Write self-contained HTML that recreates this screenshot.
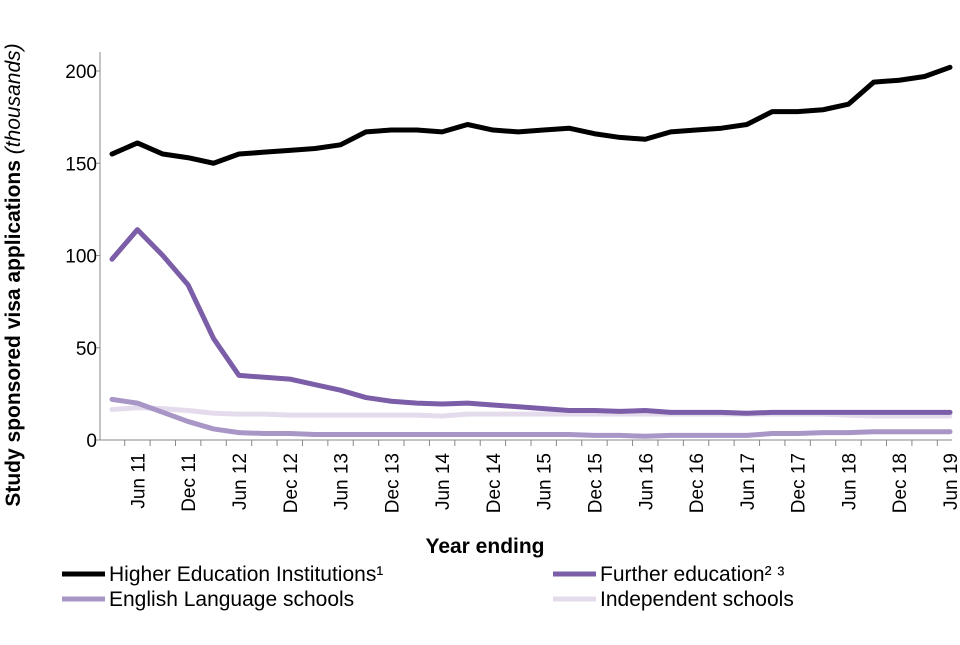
<!DOCTYPE html>
<html><head><meta charset="utf-8"><style>
body{margin:0;background:#fff;font-family:"Liberation Sans",Arial,sans-serif}
svg text{font-family:"Liberation Sans",Arial,sans-serif}
</style></head><body>
<svg id="c" width="960" height="640"></svg>
<script>
const quarters=["Mar 11","Jun 11","Sep 11","Dec 11","Mar 12","Jun 12","Sep 12","Dec 12","Mar 13","Jun 13","Sep 13","Dec 13","Mar 14","Jun 14","Sep 14","Dec 14","Mar 15","Jun 15","Sep 15","Dec 15","Mar 16","Jun 16","Sep 16","Dec 16","Mar 17","Jun 17","Sep 17","Dec 17","Mar 18","Jun 18","Sep 18","Dec 18","Mar 19","Jun 19"];
const heiValues=[155,161,155,153,150,155,156,157,158,160,167,168,168,167,171,168,167,168,169,166,164,163,167,168,169,171,178,178,179,182,194,195,197,202];
const feValues=[98,114,100,84,55,35,34,33,30,27,23,21,20,19.5,20,19,18,17,16,16,15.5,16,15,15,15,14.5,15,15,15,15,15,15,15,15];
const elsValues=[22,20,15,10,6,4,3.5,3.5,3,3,3,3,3,3,3,3,3,3,3,2.5,2.5,2,2.5,2.5,2.5,2.5,3.5,3.5,4,4,4.5,4.5,4.5,4.5];
const indValues=[16.5,17.5,17,16,14.5,14,14,13.5,13.5,13.5,13.5,13.5,13.5,13,14,14,14,14,14,14,14,14,14,14,14,14,14,14,14,13.5,13,13,13,13];
const yTicks=[0,50,100,150,200];
const tickLabels=["Jun 11","Dec 11","Jun 12","Dec 12","Jun 13","Dec 13","Jun 14","Dec 14","Jun 15","Dec 15","Jun 16","Dec 16","Jun 17","Dec 17","Jun 18","Dec 18","Jun 19"];

const svg=document.getElementById('c');const NS="http://www.w3.org/2000/svg";
const X0=100,X1=952,Y0=440,Y200=71;
const P0=112,P1=950;
const step=(P1-P0)/(quarters.length-1);
const x=i=>P0+step*i;
const y=v=>Y0-(v/200)*(Y0-Y200);
function mk(t,a,p){const e=document.createElementNS(NS,t);for(const k in a)e.setAttribute(k,a[k]);(p||svg).appendChild(e);return e;}

const yAxis=mk('line',{x1:X0,y1:52,x2:X0,y2:Y0,stroke:'#888','stroke-width':1});


const xAxis=mk('line',{x1:X0,y1:Y0,x2:X1,y2:Y0,stroke:'#888','stroke-width':1});


yTicks.forEach(v=>{
  const t=mk('text',{x:X0-3,y:y(v)+7,'text-anchor':'end','font-size':19,fill:'#000'});t.textContent=v;
  
  
  mk('line',{x1:X0-4,y1:y(v),x2:X0,y2:y(v),stroke:'#888'});
});
for(let i=0;i<quarters.length;i++){const tx=x(i)+step/2;if(tx<=X1+1)mk('line',{x1:tx,y1:Y0,x2:tx,y2:Y0+6,stroke:'#888'});}
quarters.forEach((q,i)=>{
  if(tickLabels.indexOf(q)<0)return;
  const t=mk('text',{x:0,y:0,'text-anchor':'end','font-size':19,fill:'#000',transform:`translate(${x(i)+7},${Y0+13}) rotate(-90)`});t.textContent=q;
  
  
});
const yt=mk('text',{x:0,y:0,'text-anchor':'middle','font-size':21,'font-weight':'bold',transform:'translate(20,275) rotate(-90)'});
yt.innerHTML='Study sponsored visa applications <tspan font-style="italic" font-weight="normal">(thousands)</tspan>';


const xt=mk('text',{x:485,y:553,'text-anchor':'middle','font-size':21,'font-weight':'bold'});xt.textContent='Year ending';



const series=[[indValues,'#e4dcec','Independent schools'],[elsValues,'#a896c6','English Language schools'],[feValues,'#7b5ea7','Further education\u00b2 \u00b3'],[heiValues,'#000','Higher Education Institutions\u00b9']];
series.forEach(s=>{
  const p=mk('polyline',{points:s[0].map((v,i)=>x(i)+','+y(v)).join(' '),fill:'none',stroke:s[1],'stroke-width':5,'stroke-linejoin':'round','stroke-linecap':'round'});
  
  
});
const leg=[[62,574,3],[553,574,2],[62,599,1],[553,599,0]];
leg.forEach(l=>{
  const s=series[l[2]];
  const ln=mk('line',{x1:l[0],y1:l[1],x2:l[0]+43,y2:l[1],stroke:s[1],'stroke-width':5});
  
  
  const t=mk('text',{x:l[0]+47,y:l[1]+7,'font-size':21});t.textContent=s[2];
  
  
});
</script>
</body></html>
